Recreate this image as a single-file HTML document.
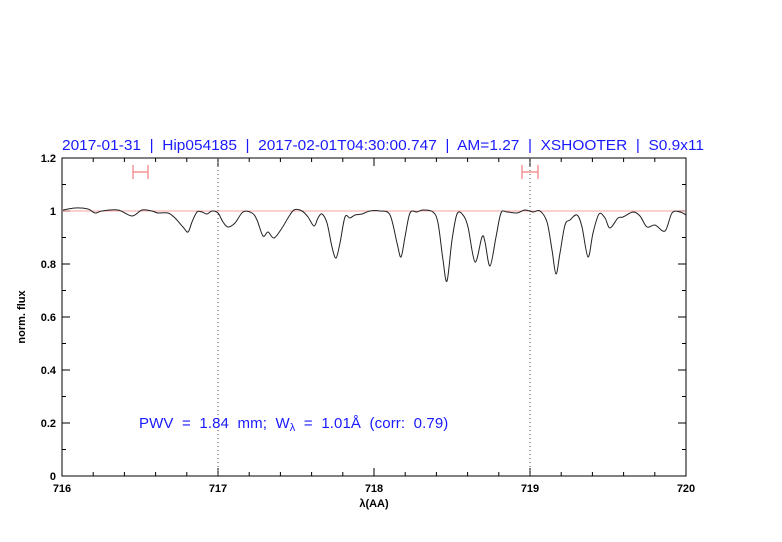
<!DOCTYPE html>
<html><head><meta charset="utf-8"><style>
html,body{margin:0;padding:0;background:#fff}
svg{display:block}
text{font-family:"Liberation Sans",sans-serif}
</style></head><body>
<svg width="782" height="542" viewBox="0 0 782 542" xmlns="http://www.w3.org/2000/svg">
<rect width="782" height="542" fill="#fff"/>
<text x="62" y="150" font-size="14.5" fill="#1a1aff" textLength="642" lengthAdjust="spacingAndGlyphs" xml:space="preserve">2017-01-31  |  Hip054185  |  2017-02-01T04:30:00.747  |  AM=1.27  |  XSHOOTER  |  S0.9x11</text>
<g stroke="#000" stroke-width="1" fill="none">
<rect x="62" y="158" width="624" height="318"/>
<path d="
M93.2,476v-4 M124.4,476v-4 M155.6,476v-4 M186.8,476v-4 M218,476v-8 M249.2,476v-4 M280.4,476v-4 M311.6,476v-4 M342.8,476v-4 M374,476v-8 M405.2,476v-4 M436.4,476v-4 M467.6,476v-4 M498.8,476v-4 M530,476v-8 M561.2,476v-4 M592.4,476v-4 M623.6,476v-4 M654.8,476v-4
M93.2,158v4 M124.4,158v4 M155.6,158v4 M186.8,158v4 M218,158v8 M249.2,158v4 M280.4,158v4 M311.6,158v4 M342.8,158v4 M374,158v8 M405.2,158v4 M436.4,158v4 M467.6,158v4 M498.8,158v4 M530,158v8 M561.2,158v4 M592.4,158v4 M623.6,158v4 M654.8,158v4
M62,449.5h4 M62,423h8 M62,396.5h4 M62,370h8 M62,343.5h4 M62,317h8 M62,290.5h4 M62,264h8 M62,237.5h4 M62,211h8 M62,184.5h4
M686,449.5h-4 M686,423h-8 M686,396.5h-4 M686,370h-8 M686,343.5h-4 M686,317h-8 M686,290.5h-4 M686,264h-8 M686,237.5h-4 M686,211h-8 M686,184.5h-4"/>
</g>
<line x1="62" y1="211" x2="686" y2="211" stroke="#f08080" stroke-width="0.8"/>
<g stroke="#444" stroke-width="1" stroke-dasharray="1,3">
<line x1="218" y1="158" x2="218" y2="476"/>
<line x1="530" y1="158" x2="530" y2="476"/>
</g>
<g stroke="#f08080" stroke-width="1.2" fill="none">
<path d="M133,172h15 M133,165v14 M148,165v14"/>
<path d="M522,172h16 M522,165v14 M538,165v14"/>
</g>
<polyline id="spec" fill="none" stroke="#222" stroke-width="1" stroke-linejoin="round" points="
63,210 75,208 88,209 95,213 102,211 118,210 132,216 142,210 152,211 158,213 168,213 175,218 183,227 188,232 192,222 197,212 202,212 207,214 212,211 218,213 223,222 228,227 235,223 243,212 252,213 257,220 263,236 268,232 274,238 282,228 288,218 294,210 302,211 308,217 314,226 318,218 322,214 327,223 332,247 336,258 340,243 345,217 350,218 355,215 362,214 370,211 380,211 390,215 397,243 401,257 405,237 410,213 417,212 423,210 433,212 438,223 443,260 447,281 452,240 457,214 463,215 468,227 475,262 482,237 485,242 490,266 496,237 501,213 507,212 517,213 525,210 533,212 540,211 547,222 552,250 556,274 560,253 565,225 570,220 577,215 582,227 588,257 593,233 599,214 605,218 610,228 618,218 623,217 633,212 640,216 647,227 655,225 665,231 672,213 680,212 686,215"/>
<path id="smooth" fill="none" stroke="#222" stroke-width="1" d=""/>
<g font-size="11" font-weight="bold" fill="#000" text-anchor="middle">
<text x="62" y="492">716</text><text x="218" y="492">717</text><text x="374" y="492">718</text><text x="530" y="492">719</text><text x="686" y="492">720</text>
<text x="374" y="507">λ(AA)</text>
</g>
<g font-size="11" font-weight="bold" fill="#000" text-anchor="end">
<text x="56" y="480">0</text><text x="56" y="427">0.2</text><text x="56" y="374">0.4</text><text x="56" y="321">0.6</text><text x="56" y="268">0.8</text><text x="56" y="215">1</text><text x="56" y="162">1.2</text>
</g>
<text transform="translate(25,317) rotate(-90)" font-size="11" font-weight="bold" text-anchor="middle">norm. flux</text>
<text x="139" y="428" font-size="15" letter-spacing="0.1" fill="#1a1aff" xml:space="preserve">PWV  =  1.84  mm;  W<tspan font-size="11" dy="3">λ</tspan><tspan dy="-3">  =  1.01Å  (corr:  0.79)</tspan></text>
</svg>
<script>
(function(){
var pl=document.getElementById('spec');
var pts=pl.getAttribute('points').trim().split(/\s+/).map(function(s){return s.split(',').map(Number);});
var d='M'+pts[0][0]+','+pts[0][1];
for(var i=0;i<pts.length-1;i++){
var p0=pts[i-1]||pts[i],p1=pts[i],p2=pts[i+1],p3=pts[i+2]||p2;
var c1x=p1[0]+(p2[0]-p0[0])/6,c1y=p1[1]+(p2[1]-p0[1])/6;
var c2x=p2[0]-(p3[0]-p1[0])/6,c2y=p2[1]-(p3[1]-p1[1])/6;
d+=' C'+c1x.toFixed(1)+','+c1y.toFixed(1)+' '+c2x.toFixed(1)+','+c2y.toFixed(1)+' '+p2[0]+','+p2[1];
}
document.getElementById('smooth').setAttribute('d',d);
pl.setAttribute('stroke','none');
})();
</script>
</body></html>
